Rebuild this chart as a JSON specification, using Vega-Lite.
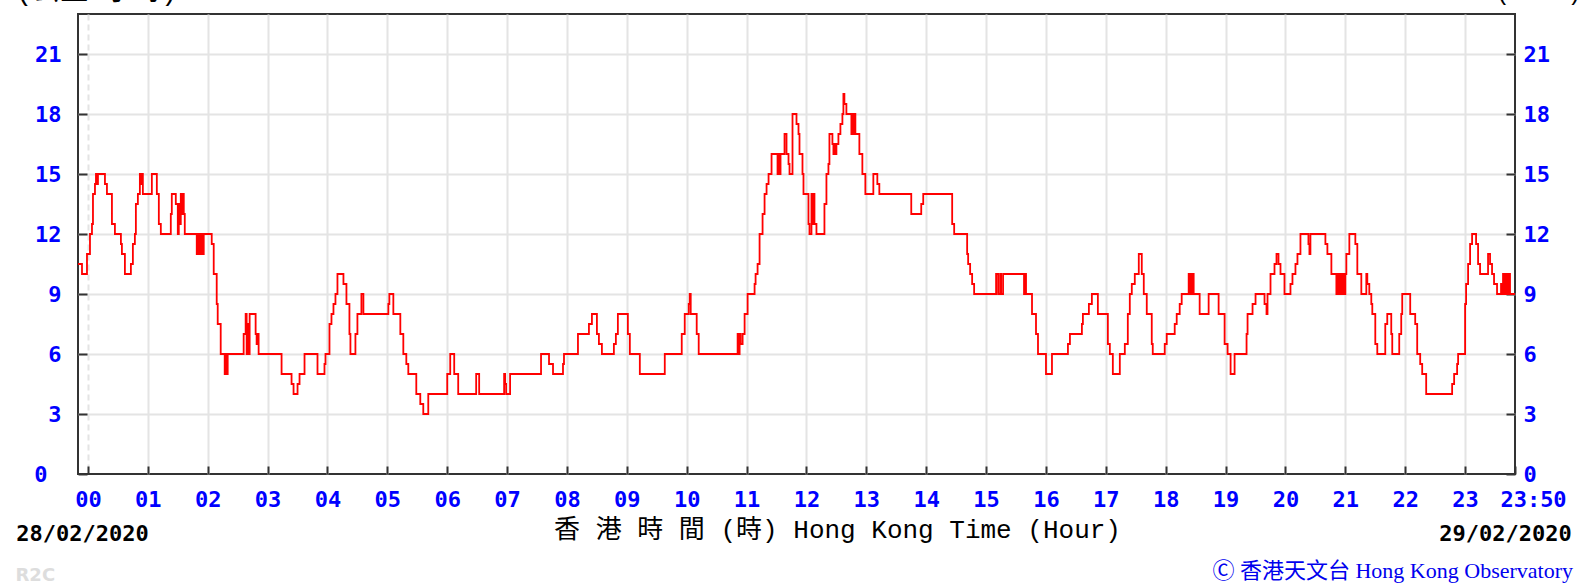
{
  "$schema": "https://vega.github.io/schema/vega-lite/v6.json",
  "autosize": {"type": "none"},
  "padding": {"left": 78, "top": 14, "right": 66, "bottom": 112},
  "width": 1437,
  "height": 460,
  "background": "#ffffff",
  "title": {
    "text": "Ⓒ 香港天文台 Hong Kong Observatory",
    "orient": "bottom",
    "anchor": "end",
    "frame": "group",
    "font": "Liberation Serif, Noto Sans CJK TC",
    "fontSize": 22,
    "fontWeight": "normal",
    "color": "#0000ee",
    "baseline": "alphabetic",
    "dx": 58,
    "offset": 0,
    "dy": -6
  },
  "data": {"values": [
    {"t":-10,"v":10.5},{"t":-6,"v":10},{"t":-1,"v":11},{"t":2,"v":12},{"t":4,"v":12.5},{"t":5,"v":14},{"t":7,"v":14.5},{"t":8,"v":15},{"t":9,"v":14.5},{"t":10,"v":15},{"t":17,"v":14.5},{"t":19,"v":14},{"t":24,"v":12.5},{"t":27,"v":12},{"t":33,"v":11.5},{"t":34,"v":11},{"t":37,"v":10},{"t":43,"v":10.5},{"t":45,"v":11.5},{"t":47,"v":12},{"t":48,"v":13.5},{"t":50,"v":14},{"t":52,"v":15},{"t":53,"v":14.5},{"t":54,"v":15},{"t":55,"v":14},{"t":64,"v":15},{"t":69,"v":14},{"t":71,"v":12.5},{"t":73,"v":12},{"t":83,"v":13},{"t":84,"v":14},{"t":88,"v":13.5},{"t":90,"v":12},{"t":91,"v":13.5},{"t":92,"v":12.5},{"t":93,"v":14},{"t":94,"v":13},{"t":95,"v":14},{"t":96,"v":13},{"t":97,"v":12},{"t":109,"v":11},{"t":110,"v":12},{"t":111,"v":11},{"t":112,"v":12},{"t":113,"v":11},{"t":114,"v":12},{"t":115,"v":11},{"t":116,"v":12},{"t":124,"v":11.5},{"t":126,"v":10},{"t":129,"v":8.5},{"t":130,"v":7.5},{"t":133,"v":6},{"t":137,"v":5},{"t":138,"v":6},{"t":139,"v":5},{"t":140,"v":6},{"t":156,"v":7},{"t":158,"v":8},{"t":159,"v":6},{"t":160,"v":7.5},{"t":161,"v":6},{"t":162,"v":8},{"t":168,"v":7},{"t":169,"v":6.5},{"t":170,"v":7},{"t":171,"v":6},{"t":194,"v":5},{"t":204,"v":4.5},{"t":206,"v":4},{"t":210,"v":4.5},{"t":212,"v":5},{"t":217,"v":6},{"t":230,"v":5},{"t":237,"v":5.5},{"t":238,"v":6},{"t":242,"v":7.5},{"t":244,"v":8},{"t":246,"v":8.5},{"t":248,"v":9},{"t":250,"v":10},{"t":256,"v":9.5},{"t":259,"v":8.5},{"t":262,"v":7},{"t":263,"v":6},{"t":268,"v":7},{"t":270,"v":8},{"t":274,"v":9},{"t":276,"v":8},{"t":301,"v":8.5},{"t":302,"v":9},{"t":306,"v":8},{"t":313,"v":7},{"t":316,"v":6},{"t":319,"v":5.5},{"t":321,"v":5},{"t":329,"v":4},{"t":333,"v":3.5},{"t":336,"v":3},{"t":341,"v":4},{"t":360,"v":5},{"t":363,"v":6},{"t":367,"v":5},{"t":371,"v":4},{"t":389,"v":5},{"t":392,"v":4},{"t":417,"v":5},{"t":418,"v":4.5},{"t":419,"v":4},{"t":423,"v":5},{"t":454,"v":6},{"t":462,"v":5.5},{"t":466,"v":5},{"t":476,"v":5.5},{"t":477,"v":6},{"t":491,"v":7},{"t":502,"v":7.5},{"t":505,"v":8},{"t":510,"v":7},{"t":512,"v":6.5},{"t":515,"v":6},{"t":527,"v":6.5},{"t":529,"v":7},{"t":531,"v":8},{"t":541,"v":7},{"t":543,"v":6},{"t":553,"v":5},{"t":578,"v":6},{"t":595,"v":7},{"t":598,"v":8},{"t":602,"v":8.5},{"t":603,"v":9},{"t":604,"v":8},{"t":610,"v":7},{"t":612,"v":6},{"t":651,"v":7},{"t":652,"v":6},{"t":653,"v":7},{"t":654,"v":6.5},{"t":656,"v":7},{"t":658,"v":8},{"t":661,"v":9},{"t":668,"v":9.5},{"t":669,"v":10},{"t":671,"v":10.5},{"t":673,"v":12},{"t":676,"v":13},{"t":678,"v":14},{"t":680,"v":14.5},{"t":682,"v":15},{"t":685,"v":16},{"t":691,"v":15},{"t":692,"v":16},{"t":693,"v":15},{"t":694,"v":16},{"t":698,"v":17},{"t":700,"v":16},{"t":702,"v":15.5},{"t":703,"v":15},{"t":706,"v":18},{"t":710,"v":17.5},{"t":712,"v":17},{"t":713,"v":16},{"t":716,"v":15},{"t":717,"v":14},{"t":722,"v":12.5},{"t":723,"v":12},{"t":725,"v":14},{"t":726,"v":12.5},{"t":727,"v":14},{"t":728,"v":12.5},{"t":730,"v":12},{"t":738,"v":13.5},{"t":740,"v":15},{"t":742,"v":15.5},{"t":743,"v":17},{"t":746,"v":16.5},{"t":747,"v":16},{"t":748,"v":16.5},{"t":749,"v":16},{"t":750,"v":16.5},{"t":752,"v":17},{"t":754,"v":17.5},{"t":756,"v":18},{"t":757,"v":19},{"t":758,"v":18.5},{"t":760,"v":18},{"t":765,"v":17},{"t":766,"v":18},{"t":767,"v":17},{"t":768,"v":18},{"t":769,"v":17},{"t":773,"v":16},{"t":776,"v":15},{"t":779,"v":14},{"t":787,"v":15},{"t":791,"v":14.5},{"t":793,"v":14},{"t":825,"v":13},{"t":835,"v":13.5},{"t":837,"v":14},{"t":866,"v":12.5},{"t":868,"v":12},{"t":881,"v":11},{"t":882,"v":10.5},{"t":884,"v":10},{"t":886,"v":9.5},{"t":888,"v":9},{"t":910,"v":10},{"t":912,"v":9},{"t":914,"v":10},{"t":915,"v":9},{"t":917,"v":10},{"t":938,"v":9},{"t":939,"v":10},{"t":940,"v":9},{"t":946,"v":8},{"t":950,"v":7},{"t":952,"v":6},{"t":960,"v":5},{"t":966,"v":6},{"t":982,"v":6.5},{"t":984,"v":7},{"t":996,"v":7.5},{"t":997,"v":8},{"t":1003,"v":8.5},{"t":1006,"v":9},{"t":1012,"v":8},{"t":1022,"v":6.5},{"t":1024,"v":6},{"t":1027,"v":5},{"t":1034,"v":6},{"t":1039,"v":6.5},{"t":1042,"v":8},{"t":1044,"v":9},{"t":1046,"v":9.5},{"t":1049,"v":10},{"t":1053,"v":11},{"t":1056,"v":10},{"t":1058,"v":9},{"t":1061,"v":8},{"t":1066,"v":6.5},{"t":1067,"v":6},{"t":1079,"v":6.5},{"t":1081,"v":7},{"t":1089,"v":7.5},{"t":1091,"v":8},{"t":1094,"v":8.5},{"t":1096,"v":9},{"t":1103,"v":10},{"t":1104,"v":9},{"t":1105,"v":10},{"t":1106,"v":9},{"t":1107,"v":10},{"t":1108,"v":9},{"t":1114,"v":8},{"t":1123,"v":9},{"t":1133,"v":8},{"t":1139,"v":6.5},{"t":1142,"v":6},{"t":1145,"v":5},{"t":1149,"v":6},{"t":1161,"v":7},{"t":1162,"v":8},{"t":1167,"v":8.5},{"t":1170,"v":9},{"t":1179,"v":8.5},{"t":1181,"v":8},{"t":1182,"v":9},{"t":1185,"v":10},{"t":1189,"v":10.5},{"t":1191,"v":11},{"t":1193,"v":10.5},{"t":1195,"v":10},{"t":1199,"v":9},{"t":1205,"v":9.5},{"t":1207,"v":10},{"t":1210,"v":10.5},{"t":1212,"v":11},{"t":1215,"v":12},{"t":1223,"v":11.5},{"t":1224,"v":11},{"t":1225,"v":12},{"t":1240,"v":11.5},{"t":1242,"v":11},{"t":1246,"v":10},{"t":1251,"v":9},{"t":1252,"v":10},{"t":1253,"v":9},{"t":1254,"v":10},{"t":1255,"v":9},{"t":1256,"v":10},{"t":1257,"v":9},{"t":1258,"v":10},{"t":1259,"v":9},{"t":1260,"v":10},{"t":1261,"v":11},{"t":1264,"v":12},{"t":1270,"v":11.5},{"t":1272,"v":10},{"t":1276,"v":9},{"t":1281,"v":10},{"t":1282,"v":9.5},{"t":1284,"v":9},{"t":1286,"v":8.5},{"t":1287,"v":8},{"t":1290,"v":6.5},{"t":1292,"v":6},{"t":1300,"v":7.5},{"t":1302,"v":8},{"t":1306,"v":7},{"t":1307,"v":6},{"t":1314,"v":7},{"t":1316,"v":8},{"t":1317,"v":9},{"t":1325,"v":8},{"t":1330,"v":7.5},{"t":1332,"v":6},{"t":1335,"v":5.5},{"t":1337,"v":5},{"t":1341,"v":4},{"t":1367,"v":4.5},{"t":1369,"v":5},{"t":1372,"v":5.5},{"t":1373,"v":6},{"t":1380,"v":8.5},{"t":1381,"v":9.5},{"t":1383,"v":10.5},{"t":1385,"v":11.5},{"t":1387,"v":12},{"t":1391,"v":11.5},{"t":1393,"v":10.5},{"t":1395,"v":10},{"t":1403,"v":11},{"t":1405,"v":10.5},{"t":1407,"v":10},{"t":1409,"v":9.5},{"t":1412,"v":9},{"t":1416,"v":9.5},{"t":1417,"v":9},{"t":1418,"v":10},{"t":1419,"v":9},{"t":1420,"v":10},{"t":1421,"v":9},{"t":1422,"v":10},{"t":1423,"v":9},{"t":1424,"v":10},{"t":1425,"v":9},{"t":1430,"v":9}
  ]},
  "layer": [
    {
      "mark": {"type": "line", "interpolate": "step-after", "color": "#ff0000", "strokeWidth": 1.8},
      "encoding": {
        "x": {
          "field": "t", "type": "quantitative",
          "scale": {"domain": [-10, 1430], "nice": false, "zero": false},
          "axis": {
            "orient": "bottom",
            "values": [0,60,120,180,240,300,360,420,480,540,600,660,720,780,840,900,960,1020,1080,1140,1200,1260,1320,1380,1430],
            "labelExpr": "datum.value == 1430 ? '23:50' : (floor(datum.value/60) < 10 ? '0' : '') + floor(datum.value/60)",
            "labelOffset": {"condition": {"test": "datum.value == 1430", "value": 18}, "value": 0},
            "labelFlush": false,
            "labelOverlap": false,
            "labelColor": "#0000ff",
            "labelFont": "DejaVu Sans Mono",
            "labelFontWeight": "bold",
            "labelFontSize": 22,
            "labelPadding": 23,
            "labelBaseline": "top",
            "tickSize": -8,
            "tickWidth": 2,
            "tickColor": "#333333",
            "domain": false,
            "grid": true,
            "gridColor": "#e4e4e4",
            "gridWidth": 2,
            "gridDash": {"condition": {"test": "datum.value == 0", "value": [6, 4]}, "value": []},
            "gridOpacity": {"condition": {"test": "datum.value == 1430", "value": 0}, "value": 1},
            "title": "香 港 時 間 (時) Hong Kong Time (Hour)",
            "titleFont": "Liberation Mono, Noto Sans CJK TC",
            "titleFontSize": 26,
            "titleFontWeight": "normal",
            "titleColor": "#000000",
            "titleX": 759,
            "titleY": 63,
            "titleAlign": "center",
            "titleBaseline": "alphabetic"
          }
        },
        "y": {
          "field": "v", "type": "quantitative",
          "scale": {"domain": [0, 23], "nice": false, "zero": true},
          "axis": {
            "orient": "left",
            "values": [0,3,6,9,12,15,18,21],
            "labelFlush": false,
            "labelOverlap": false,
            "labelColor": "#0000ff",
            "labelFont": "DejaVu Sans Mono",
            "labelFontWeight": "bold",
            "labelFontSize": 22,
            "labelPadding": {"condition": {"test": "datum.value == 0", "value": 40}, "value": 26},
            "tickSize": -9,
            "tickWidth": 2,
            "tickColor": "#333333",
            "domain": false,
            "grid": true,
            "gridColor": "#e4e4e4",
            "gridWidth": 2,
            "gridOpacity": {"condition": {"test": "datum.value == 0", "value": 0}, "value": 1},
            "title": "(公里/小時)",
            "titleAngle": 0,
            "titleX": -63,
            "titleY": -15,
            "titleAlign": "left",
            "titleBaseline": "alphabetic",
            "titleFont": "Liberation Mono, Noto Sans CJK TC",
            "titleFontSize": 28,
            "titleFontWeight": "normal",
            "titleColor": "#000000"
          }
        }
      }
    },
    {
      "mark": {"type": "line", "interpolate": "step-after", "color": "#ff0000", "strokeOpacity": 0},
      "encoding": {
        "x": {
          "field": "t", "type": "quantitative",
          "axis": {
            "orient": "bottom",
            "values": [0, 1430],
            "labelExpr": "datum.value == 0 ? '28/02/2020' : '29/02/2020'",
            "labelOffset": {"condition": {"test": "datum.value == 0", "value": -6}, "value": -10},
            "labelFlush": false,
            "labelOverlap": false,
            "labelColor": "#000000",
            "labelFont": "DejaVu Sans Mono",
            "labelFontWeight": "bold",
            "labelFontSize": 22,
            "labelPadding": 49,
            "labelBaseline": "top",
            "ticks": false,
            "domain": false,
            "grid": false,
            "title": "R2C",
            "titleFont": "DejaVu Sans",
            "titleFontSize": 18,
            "titleFontWeight": "bold",
            "titleColor": "#dddddd",
            "titleX": -63,
            "titleY": 106,
            "titleAlign": "left",
            "titleBaseline": "alphabetic"
          }
        },
        "y": {
          "field": "v", "type": "quantitative",
          "axis": {
            "orient": "right",
            "values": [0,3,6,9,12,15,18,21],
            "labelFlush": false,
            "labelOverlap": false,
            "labelColor": "#0000ff",
            "labelFont": "DejaVu Sans Mono",
            "labelFontWeight": "bold",
            "labelFontSize": 22,
            "labelPadding": 17,
            "tickSize": -9,
            "tickWidth": 2,
            "tickColor": "#333333",
            "domain": false,
            "grid": false,
            "title": "(km/h)",
            "titleAngle": 0,
            "titleX": -20,
            "titleY": -15,
            "titleAlign": "left",
            "titleBaseline": "alphabetic",
            "titleFont": "Liberation Mono, Noto Sans CJK TC",
            "titleFontSize": 24,
            "titleFontWeight": "normal",
            "titleColor": "#000000"
          }
        }
      }
    }
  ],
  "resolve": {"axis": {"x": "independent", "y": "independent"}},
  "config": {
    "view": {"stroke": "#333333", "strokeWidth": 2}
  }
}
